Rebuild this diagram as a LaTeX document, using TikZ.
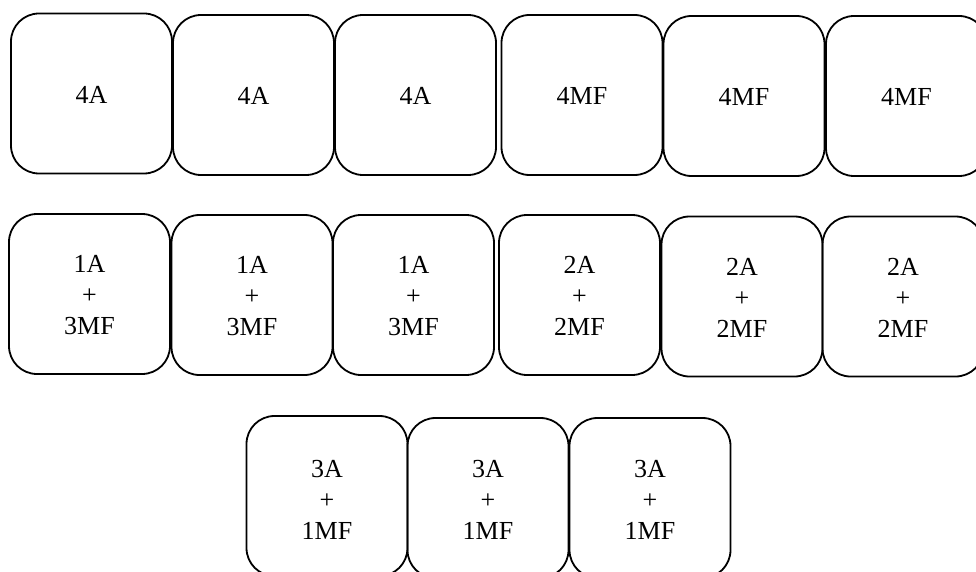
\documentclass[tikz,border=0pt]{standalone}
\usepackage{fontspec}
\setmainfont{Liberation Serif}
\newcommand{\cardtext}[2]{\raisebox{-#1}[\height][\depth]{\begin{tabular}{@{}c@{}}#2\end{tabular}}}
\begin{document}
\begin{tikzpicture}[x=1pt,y=-1pt,
  card/.style={draw=black, line width=1.8pt, rounded corners=28pt,
    minimum width=161pt, minimum height=160pt, inner sep=0pt,
    align=center, font=\fontsize{26}{31}\selectfont}]
\useasboundingbox (0,0) rectangle (976,572);
\clip (0,0) rectangle (976,572);
% row 1
\node[card] (r1a) at (91.5,93.5) {\cardtext{3.5pt}{4A}};
\node[card] (r1b) at (253.5,95) {\cardtext{3.5pt}{4A}};
\node[card] (r1c) at (415.5,95) {\cardtext{3.5pt}{4A}};
\node[card] (r1d) at (582,95) {\cardtext{3.5pt}{4MF}};
\node[card] (r1e) at (744,96) {\cardtext{3.5pt}{4MF}};
\node[card] (r1f) at (906.5,96) {\cardtext{3.5pt}{4MF}};
% row 2
\node[card] (r2a) at (89.5,294) {\cardtext{3.5pt}{1A\\+\\3MF}};
\node[card] (r2b) at (252,295) {\cardtext{3.5pt}{1A\\+\\3MF}};
\node[card] (r2c) at (413.5,295) {\cardtext{3.5pt}{1A\\+\\3MF}};
\node[card] (r2d) at (579.5,295) {\cardtext{3.5pt}{2A\\+\\2MF}};
\node[card] (r2e) at (742,296.5) {\cardtext{3.5pt}{2A\\+\\2MF}};
\node[card] (r2f) at (903,296.5) {\cardtext{3.5pt}{2A\\+\\2MF}};
% row 3
\node[card] (r3a) at (327,496) {\cardtext{6pt}{3A\\+\\1MF}};
\node[card] (r3b) at (488,498) {\cardtext{4.5pt}{3A\\+\\1MF}};
\node[card] (r3c) at (650,498) {\cardtext{4.5pt}{3A\\+\\1MF}};
\end{tikzpicture}
\end{document}
